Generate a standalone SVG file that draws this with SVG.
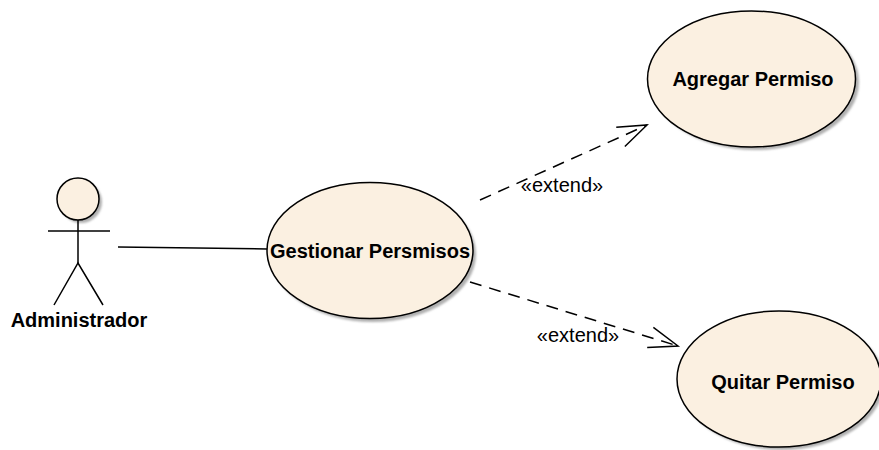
<svg xmlns="http://www.w3.org/2000/svg" width="879" height="450" viewBox="0 0 879 450">
<defs>
<filter id="blur" x="-10%" y="-10%" width="120%" height="120%"><feGaussianBlur stdDeviation="1.2"/></filter>
<marker id="open" viewBox="0 0 32 24" refX="30" refY="12" markerWidth="32" markerHeight="24" markerUnits="userSpaceOnUse" orient="auto">
<path d="M1,1.5 L30,12 L1,22.5" fill="none" stroke="#000" stroke-width="1.5"/>
</marker>
</defs>
<style>
.uc{fill:#FBF0E1;stroke:#000;stroke-width:1.5}
.sh{fill:#b0b0b0;filter:url(#blur)}
.lbl{font-family:"Liberation Sans",Arial,sans-serif;font-weight:bold;font-size:20px;fill:#000;text-anchor:middle}
.st{font-family:"Liberation Sans",Arial,sans-serif;font-size:20px;fill:#000;text-anchor:middle}
.line{fill:none;stroke:#000;stroke-width:1.5}
.dash{fill:none;stroke:#000;stroke-width:1.5;stroke-dasharray:12,8}
</style>
<rect width="879" height="450" fill="#fff"/>
<g id="connectors">
<line class="line" x1="118" y1="247" x2="267" y2="249"/>
<line class="dash" x1="480" y1="200" x2="647" y2="125" marker-end="url(#open)"/>
<line class="dash" x1="470" y1="282" x2="678" y2="346" marker-end="url(#open)"/>
<text class="st" x="562" y="192">«extend»</text>
<text class="st" x="578" y="342">«extend»</text>
</g>
<g id="actor-administrador">
<circle class="sh" cx="81" cy="202" r="21"/>
<circle class="uc" cx="78" cy="199" r="21"/>
<line class="line" x1="78" y1="220" x2="78" y2="263"/>
<line class="line" x1="48" y1="231" x2="110" y2="231"/>
<polyline class="line" points="54,305 78,263 103,305"/>
<text class="lbl" x="79" y="327">Administrador</text>
</g>
<g id="uc-gestionar">
<ellipse class="sh" cx="373" cy="254" rx="103" ry="68"/>
<ellipse class="uc" cx="370" cy="250.5" rx="103" ry="68"/>
<text class="lbl" x="370" y="258">Gestionar Persmisos</text>
</g>
<g id="uc-agregar">
<ellipse class="sh" cx="755" cy="82" rx="104" ry="68"/>
<ellipse class="uc" cx="751.5" cy="79" rx="104" ry="68"/>
<text class="lbl" x="753" y="86">Agregar Permiso</text>
</g>
<g id="uc-quitar">
<ellipse class="sh" cx="782" cy="382" rx="102" ry="68"/>
<ellipse class="uc" cx="779" cy="379" rx="102" ry="68"/>
<text class="lbl" x="783" y="389">Quitar Permiso</text>
</g>
</svg>
